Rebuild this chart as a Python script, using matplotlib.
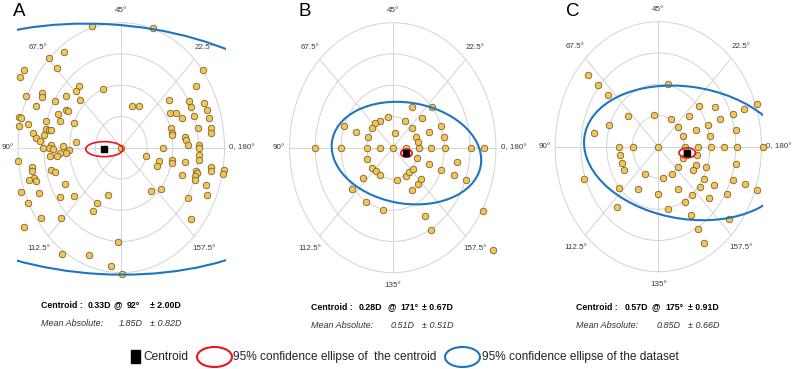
import numpy as np
import matplotlib
matplotlib.use("Agg")
import matplotlib.pyplot as plt
from matplotlib.patches import Ellipse, Circle, Rectangle

# ---------------- data (double-angle plot coordinates, dioptres) ----------------
a_x = [-0.56, 0.62, -1.12, -1.40, -1.25, 1.58, -1.88, -1.97, 1.45, -0.35, -0.82, -0.88,
       -1.53, -1.53, -1.84, -1.08, -0.81, 0.92, 1.31, 1.61, -1.66, -1.29, 0.21, 0.34,
       1.36, -1.08, -1.03, 0.95, 1.06, 1.66, -1.23, -1.99, -1.94, -1.18, 1.18, 1.69,
       1.40, -1.99, -1.80, -1.45, -0.92, 0.96, 1.48, 1.73, 1.74, -1.71, -1.45, -1.40,
       -1.36, 0.98, 0.99, -1.66, -1.50, 1.24, 1.25, 1.50, 1.51, -1.58, -0.87, 1.29,
       -1.13, -1.36, -1.40, -1.51, -1.33, -1.01, -1.08, -0.01, 0.81, 1.51, 1.50, -1.19,
       -1.25, -1.39, 0.47, 0.99, 0.99, 0.73, 0.69, 1.23, -2.01, -1.74, -1.73, -1.36,
       -1.29, 1.73, 1.74, 1.99, 1.97, 1.45, 1.46, 1.43, 1.42, 1.18, -1.69, -1.79,
       -1.65, -1.10, 1.65, -1.94, -1.60, 0.58, 0.77, -0.25, -0.92, -1.18, 1.66, 1.29,
       -1.81, -0.48, -0.54, -1.16, -1.55, 1.35, -1.89, -0.06, -1.15, -0.62, -0.20, 0.01]
a_y = [1.94, 1.91, 1.53, 1.44, 1.28, 1.24, 1.25, 1.13, 0.98, 0.94, 0.98, 0.91,
       0.87, 0.81, 0.82, 0.83, 0.76, 0.77, 0.75, 0.71, 0.66, 0.74, 0.66, 0.66,
       0.65, 0.61, 0.59, 0.55, 0.56, 0.60, 0.54, 0.49, 0.47, 0.42, 0.47, 0.48,
       0.51, 0.35, 0.38, 0.42, 0.40, 0.31, 0.31, 0.31, 0.24, 0.23, 0.30, 0.28,
       0.28, 0.24, 0.20, 0.16, 0.20, 0.17, 0.13, 0.05, 0.00, 0.11, 0.09, 0.04,
       0.03, 0.04, 0.00, -0.01, -0.02, -0.04, -0.09, -0.01, 0.00, -0.12, -0.19, -0.09,
       -0.14, -0.14, -0.14, -0.19, -0.25, -0.22, -0.29, -0.23, -0.21, -0.31, -0.37, -0.35,
       -0.39, -0.31, -0.38, -0.36, -0.42, -0.37, -0.41, -0.46, -0.52, -0.43, -0.49, -0.52,
       -0.54, -0.58, -0.60, -0.71, -0.72, -0.70, -0.66, -0.76, -0.77, -0.79, -0.75, -0.81,
       -0.89, -0.89, -1.01, -1.12, -1.13, -1.14, -1.27, -1.51, -1.70, -1.71, -1.90, -2.02]

b_x = [0.37, 0.77, -0.10, -0.25, 0.23, 0.57, -0.95, -0.34, -0.40, -0.72, 0.70, 0.94,
       -0.47, 0.04, 0.46, 0.49, 0.99, 0.38,
       -1.51, -1.01, -0.50, -0.25, 0.00, 0.25, 0.50, 0.75, 1.01, 1.51, 1.76,
       0.47, 1.24, 0.70, -0.49, 0.94, -0.40, -0.32, -0.25, -0.58, 1.18, 1.42, 0.08,
       0.25, 0.32, 0.39, 0.49, 0.37, -0.79, -0.51, -0.19, 1.75, 0.63, 0.75, 1.94, 0.55]
b_y = [0.65, 0.65, 0.49, 0.43, 0.43, 0.48, 0.34, 0.39, 0.31, 0.25, 0.25, 0.34,
       0.17, 0.24, 0.17, 0.09, 0.17, 0.32,
       0.00, 0.00, 0.00, 0.00, 0.00, 0.00, 0.00, 0.00, 0.00, 0.00, 0.00,
       -0.17, -0.23, -0.26, -0.18, -0.35, -0.33, -0.38, -0.44, -0.49, -0.44, -0.52, -0.51,
       -0.45, -0.39, -0.34, -0.58, -0.67, -0.66, -0.87, -1.00, -1.01, -1.09, -1.32, -1.63, -0.50]

c_x = [-1.36, -1.17, -0.97, 0.18, 1.92, 0.79, 1.10, 1.67, -0.58, -0.08, 0.25, 0.59,
       1.20, 1.44, -0.95, 0.39, 0.96, 0.73, 1.51, -1.25, 0.48, 1.01,
       -0.76, -0.50, 0.00, 0.51, 0.76, 1.02, 1.27, 1.53, 2.03,
       -0.75, 0.48, 0.75, -0.71, 1.51, -0.66, 0.39, 0.73, 0.92, 0.67, -1.44, -0.25,
       0.10, 0.26, 0.88, 1.44, -0.77, -0.39, 0.38, 0.80, 1.07, 1.68, 1.92, 0.00,
       0.66, 0.98, 1.33, 0.51, 0.18, -0.81, 0.64, 1.37, 0.77, 0.89]
c_y = [1.15, 0.98, 0.82, 1.00, 0.69, 0.65, 0.63, 0.61, 0.49, 0.50, 0.45, 0.49,
       0.44, 0.52, 0.35, 0.32, 0.34, 0.26, 0.27, 0.22, 0.17, 0.17,
       0.00, 0.00, 0.00, 0.00, 0.00, 0.00, 0.00, 0.00, 0.00,
       -0.13, -0.18, -0.13, -0.26, -0.27, -0.38, -0.32, -0.30, -0.32, -0.38, -0.52, -0.44,
       -0.50, -0.44, -0.51, -0.53, -0.66, -0.67, -0.67, -0.64, -0.62, -0.60, -0.69, -0.76,
       -0.77, -0.82, -0.76, -0.88, -1.00, -0.97, -1.10, -1.15, -1.32, -1.54]

panel_letters = ["A", "B", "C"]
centroid_mag = [0.33, 0.28, 0.57]
centroid_axis = [92, 171, 175]
centroid_sd = [2.00, 0.67, 0.91]
mean_abs = [1.85, 0.51, 0.85]
mean_abs_sd = [0.82, 0.51, 0.66]

# 95% confidence ellipse of the centroid (width, height in D; angle in degrees)
ci_w = [0.72, 0.22, 0.32]
ci_h = [0.24, 0.13, 0.16]
ci_ang = [0, 0, 0]
# 95% confidence ellipse of the dataset
ds_w = [8.8, 2.91, 4.02]
ds_h = [4.0, 1.62, 2.12]
ds_ang = [-2.7, -6.3, -6.5]

ring_radii = [0.5, 1.0, 1.5, 2.0]
axis_labels = ["0, 180°", "22.5°", "45°", "67.5°", "90°", "112.5°", "135°", "157.5°"]

# ---------------- layout ----------------
W, H = 793, 369
fig = plt.figure(figsize=(W / 100, H / 100), dpi=100)
SX, SY = 51.6, 62.5          # px per dioptre, horizontal / vertical
XL, YL = 2.03, 2.06
centers = [(121.3, 147.7), (392.7, 147.7), (658.3, 146.7)]
letter_pos = [(19, 12), (305, 12), (573, 12)]

FONT = ["Liberation Sans", "DejaVu Sans"]
GRID = "#d3d3d3"
BLUE = "#1f74c2"
RED = "#e8151b"

data = [(a_x, a_y), (b_x, b_y), (c_x, c_y)]

for i in range(3):
    cx, cy = centers[i]
    wpx, hpx = 2 * XL * SX, 2 * YL * SY
    ax = fig.add_axes([(cx - wpx / 2) / W, (H - cy - hpx / 2) / H, wpx / W, hpx / H])
    ax.set_xlim(-XL, XL)
    ax.set_ylim(-YL, YL)
    ax.set_axis_off()

    for r in ring_radii:
        ax.add_patch(Circle((0, 0), r, fill=False, ec=GRID, lw=0.7, zorder=1, clip_on=False))
    for k in range(8):
        t = np.deg2rad(45 * k)
        ax.plot([0, 2.0 * np.cos(t)], [0, 2.0 * np.sin(t)], color=GRID, lw=0.7,
                zorder=1, clip_on=False)

    for k, lab in enumerate(axis_labels):
        if i == 0 and lab == "135°":
            continue
        t = np.deg2rad(45 * k)
        kwt = dict(va="center", fontsize=5.8, color="#3a3a3a", family=FONT)
        if k == 0:
            ax.text(2.09, 0, lab, ha="left", **kwt)
        elif k == 4:
            ax.text(-2.09, 0, lab, ha="right", **kwt)
        else:
            rr = 2.2 if k in (2, 6) else 2.27
            ax.text(rr * np.cos(t), rr * np.sin(t), lab, ha="center", **kwt)

    xs, ys = data[i]
    ax.plot(xs, ys, "o", ms=4.7, mfc="#F4C551", mec="#76633a", mew=0.6,
            clip_on=False, zorder=3)

    ang2 = np.deg2rad(2 * centroid_axis[i])
    ccx = centroid_mag[i] * np.cos(ang2)
    ccy = centroid_mag[i] * np.sin(ang2)
    ax.add_patch(Ellipse((ccx, ccy), ds_w[i], ds_h[i], angle=ds_ang[i], fill=False,
                         ec=BLUE, lw=1.5, zorder=4))
    ax.add_patch(Ellipse((ccx, ccy), ci_w[i], ci_h[i], angle=ci_ang[i], fill=False,
                         ec=RED, lw=1.2, zorder=5, clip_on=False))
    ax.plot([ccx], [ccy], "s", ms=4.3, color="black", zorder=6, clip_on=False)

# ---------------- overlay (text, legend) in pixel coordinates ----------------
ov = fig.add_axes([0, 0, 1, 1])
ov.set_xlim(0, W)
ov.set_ylim(H, 0)
ov.set_axis_off()

for i, (lx, ly) in enumerate(letter_pos):
    ov.text(lx, ly, panel_letters[i], ha="center", va="center", fontsize=13.5,
            family=FONT, color="black")

row1_y = [305, 307, 307]
row2_y = [324, 325, 325]
x_lab = [41, 311, 576]
x_mag = [88, 359, 625]
x_at = [114, 388, 652]
x_axis = [127, 400, 665]
x_pm = [150, 422, 688]
x_mabs = [119, 391, 657]
for i in range(3):
    kw1 = dict(va="center", ha="left", fontsize=6.3, fontweight="bold", family=FONT,
               color="black")
    ov.text(x_lab[i], row1_y[i], "Centroid :", **kw1)
    ov.text(x_mag[i], row1_y[i], f"{centroid_mag[i]:.2f}D", **kw1)
    ov.text(x_at[i], row1_y[i], "@", **kw1)
    ov.text(x_axis[i], row1_y[i], f"{centroid_axis[i]}°", **kw1)
    ov.text(x_pm[i], row1_y[i], f"± {centroid_sd[i]:.2f}D", **kw1)
    kw2 = dict(va="center", ha="left", fontsize=6.5, style="italic", family=FONT,
               color="#333333")
    ov.text(x_lab[i], row2_y[i], "Mean Absolute:", **kw2)
    ov.text(x_mabs[i], row2_y[i], f"{mean_abs[i]:.2f}D", **kw2)
    ov.text(x_pm[i], row2_y[i], f"± {mean_abs_sd[i]:.2f}D", **kw2)

# legend
leg_y = 357
ov.add_patch(Rectangle((131, 350), 9, 13, color="black"))
kwl = dict(va="center", ha="left", fontsize=8.6, family=FONT, color="#222222")
ov.text(143, leg_y, "Centroid", **kwl)
ov.add_patch(Ellipse((214.5, leg_y), 35, 20, fill=False, ec=RED, lw=1.5))
ov.text(233, leg_y, "95% confidence ellipse of  the centroid", **kwl)
ov.add_patch(Ellipse((462.5, leg_y), 35, 20, fill=False, ec=BLUE, lw=1.5))
ov.text(482, leg_y, "95% confidence ellipse of the dataset", **kwl)

fig.savefig("out.png", dpi=100)
